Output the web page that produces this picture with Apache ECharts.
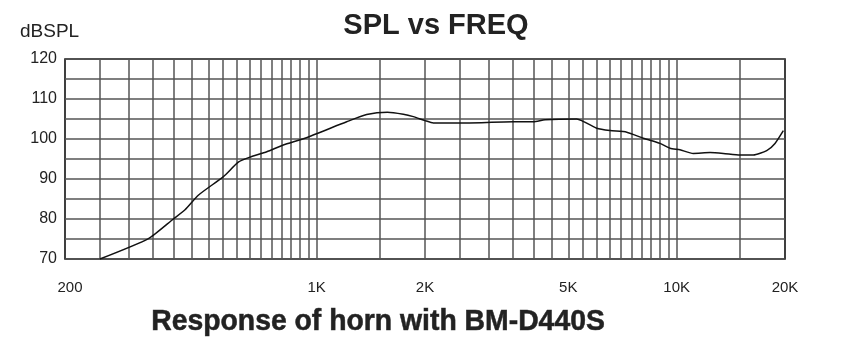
<!DOCTYPE html>
<html>
<head>
<meta charset="utf-8">
<script src="https://cdn.jsdelivr.net/npm/echarts@6/dist/echarts.min.js"></script>
<style>html,body{margin:0;padding:0;background:#fff}#c{width:850px;height:351px}</style>
</head>
<body>
<div id="c"></div>
<script>
// Frequency response data (Hz, dB SPL)
const freqs = [250, 341, 400, 431, 470, 551, 606, 650, 727, 808, 928, 1212, 1377, 1573, 1741, 1856, 2000, 2110, 2500, 3518, 4000, 4309, 5276, 5448, 5998, 6531, 7268, 8076, 8994, 9586, 10216, 11123, 12380, 13483, 15000, 16332, 17794, 18760, 19790];
const spl = [70.0, 75.1, 80.0, 82.3, 86.0, 90.6, 94.2, 95.4, 96.8, 98.5, 100.2, 104.3, 106.1, 106.7, 106.2, 105.6, 104.6, 104.0, 104.0, 104.3, 104.3, 104.8, 105.0, 104.6, 102.7, 102.1, 101.7, 100.2, 98.9, 97.7, 97.3, 96.4, 96.6, 96.4, 96.0, 96.0, 97.1, 98.9, 102.1];

// Vertical grid line frequencies
const gridFreqs = [250, 300, 350, 400, 450, 500, 550, 600, 650, 700, 750, 800, 850, 900, 950, 1000, 1500, 2000, 2500, 3000, 3500, 4000, 4500, 5000, 5500, 6000, 6500, 7000, 7500, 8000, 8500, 9000, 9500, 10000, 15000];
// X tick labels
const xTickValues = [200, 1000, 2000, 5000, 10000, 20000];
const xTickNames = ['200', '1K', '2K', '5K', '10K', '20K'];
// Y tick labels
const yTickValues = [70, 80, 90, 100, 110, 120];

const xMin = 200, xMax = 20000;
const lg = Math.log10;

const chart = echarts.init(document.getElementById('c'), null, {renderer: 'canvas'});
chart.setOption({
  animation: false,
  backgroundColor: '#fff',
  grid: {left: 65, right: 65, top: 59, bottom: 92, show: true, borderColor: '#111', borderWidth: 1.6, backgroundColor: 'transparent'},
  xAxis: [
    {type: 'log', logBase: 10, min: xMin, max: xMax, show: false},
    {
      type: 'value', min: lg(xMin), max: lg(xMax), position: 'bottom',
      axisLine: {show: false},
      axisTick: {show: false, customValues: gridFreqs.map(lg)},
      splitLine: {show: true, lineStyle: {color: '#555', width: 1.5}},
      axisLabel: {
        customValues: xTickValues.map(lg),
        margin: 21,
        fontFamily: 'Liberation Sans, Arial, sans-serif',
        fontSize: 15,
        color: '#222',
        rich: {first: {fontFamily: 'Liberation Sans, Arial, sans-serif', fontSize: 15, color: '#222', padding: [0, 0, 0, 10]}},
        formatter: function (v) {
          for (let i = 0; i < xTickValues.length; i++) {
            if (Math.abs(lg(xTickValues[i]) - v) < 1e-6) return i === 0 ? '{first|' + xTickNames[i] + '}' : xTickNames[i];
          }
          return '';
        }
      }
    }
  ],
  yAxis: {
    type: 'value', min: 70, max: 120, interval: 5,
    axisLine: {show: false},
    axisTick: {show: false},
    splitLine: {show: true, lineStyle: {color: '#555', width: 1.5}},
    axisLabel: {
      margin: 8,
      fontFamily: 'Liberation Sans, Arial, sans-serif',
      fontSize: 16,
      color: '#222',
      formatter: function (v) { return yTickValues.indexOf(v) >= 0 ? String(v) : ''; }
    }
  },
  series: [{
    type: 'line',
    xAxisIndex: 0,
    data: freqs.map((f, i) => [f, spl[i]]),
    showSymbol: false,
    smooth: 0.2,
    lineStyle: {color: '#111', width: 1.5},
    silent: true
  }],
  graphic: [
    {type: 'text', left: 20, top: 22, style: {text: 'dBSPL', font: '19px "Liberation Sans", Arial, sans-serif', fill: '#222'}},
    {type: 'text', x: 436, y: 26, style: {text: 'SPL vs FREQ', font: 'bold 29px "Liberation Sans", Arial, sans-serif', fill: '#222', align: 'center', verticalAlign: 'middle'}},
    {type: 'text', x: 378, y: 322, scaleX: 0.945, style: {text: 'Response of horn with BM-D440S', font: 'bold 30px "Liberation Sans", Arial, sans-serif', fill: '#222', stroke: '#444', lineWidth: 0.6, align: 'center', verticalAlign: 'middle'}}
  ]
});
</script>
</body>
</html>
